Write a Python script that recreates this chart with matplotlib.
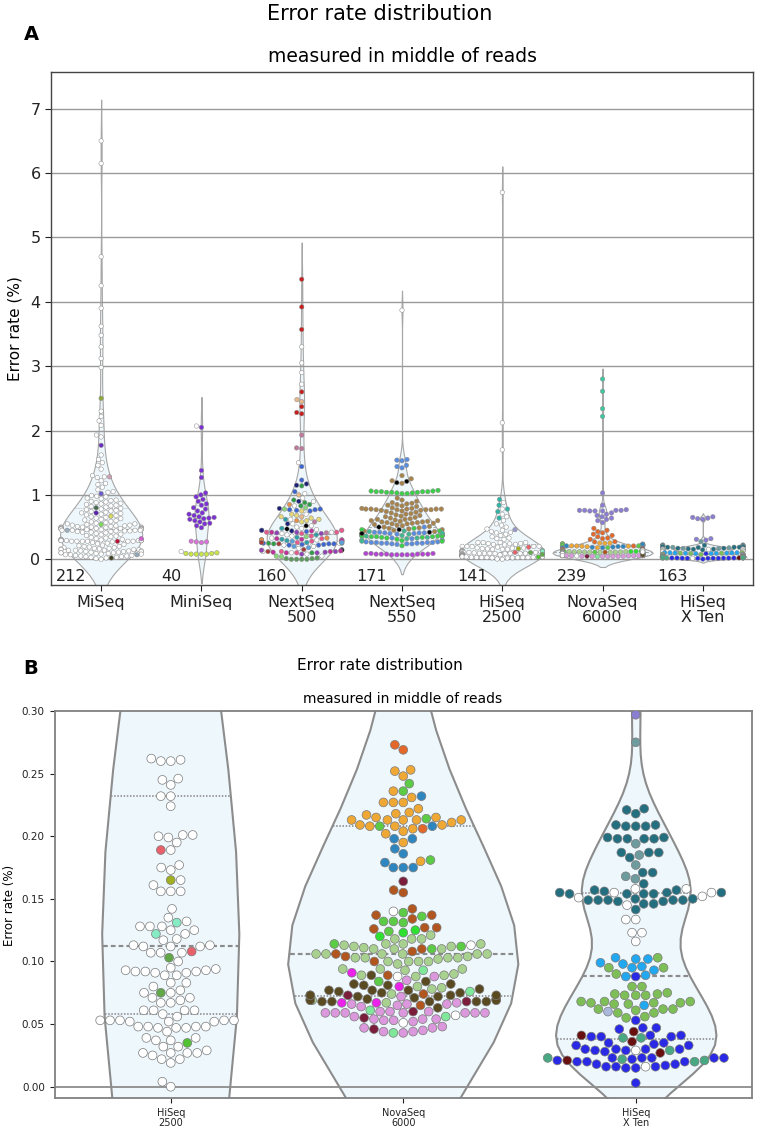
import warnings
import numpy as np
import pandas as pd
import matplotlib
matplotlib.use("Agg")
import matplotlib.pyplot as plt
import seaborn as sns

warnings.filterwarnings("ignore")

# platforms and sample counts (as printed under each violin)
platforms = ["MiSeq", "MiniSeq", "NextSeq\n500", "NextSeq\n550", "HiSeq\n2500", "NovaSeq\n6000", "HiSeq\nX Ten"]
sample_counts = [212, 40, 160, 171, 141, 239, 163]

# ---- MiSeq ----
miseq_white = [
    6.50, 6.15, 4.70, 4.25, 3.90, 3.62, 3.48, 3.30, 3.12, 2.98, 2.30, 2.22, 2.15, 2.08, 1.93, 1.90,
    1.62, 1.55, 1.50, 1.46, 1.40, 1.30, 1.28, 1.27, 1.22, 1.18, 1.16, 1.12, 1.08, 1.05, 1.04, 0.99,
    0.98, 0.97, 0.95, 0.94, 0.92, 0.91, 0.90, 0.89, 0.88, 0.87, 0.86, 0.85, 0.84, 0.83, 0.82, 0.81,
    0.79, 0.78, 0.77, 0.76, 0.75, 0.74, 0.73, 0.72, 0.71, 0.70, 0.69, 0.68, 0.66, 0.65, 0.64, 0.63,
    0.62, 0.61, 0.60, 0.59, 0.58, 0.57, 0.56, 0.55, 0.55, 0.54, 0.53, 0.53, 0.52, 0.52, 0.51, 0.51,
    0.50, 0.50, 0.50, 0.50, 0.49, 0.49, 0.49, 0.49, 0.48, 0.48, 0.48, 0.48, 0.48, 0.47, 0.47, 0.47,
    0.47, 0.47, 0.46, 0.46, 0.46, 0.45, 0.45, 0.45, 0.45, 0.44, 0.44, 0.44, 0.43, 0.43, 0.42, 0.42,
    0.41, 0.40, 0.39, 0.38, 0.37, 0.36, 0.35, 0.34, 0.33, 0.32, 0.31, 0.31, 0.31, 0.30, 0.30, 0.30,
    0.30, 0.30, 0.30, 0.30, 0.30, 0.30, 0.30, 0.29, 0.29, 0.29, 0.29, 0.29, 0.29, 0.29, 0.29, 0.28,
    0.28, 0.28, 0.28, 0.28, 0.28, 0.27, 0.26, 0.25, 0.24, 0.23, 0.22, 0.21, 0.20, 0.20, 0.19, 0.18,
    0.18, 0.17, 0.17, 0.16, 0.16, 0.15, 0.15, 0.15, 0.14, 0.14, 0.14, 0.13, 0.13, 0.13, 0.12, 0.12,
    0.12, 0.11, 0.11, 0.10, 0.10, 0.10, 0.09, 0.09, 0.08, 0.08, 0.07, 0.07, 0.06, 0.06, 0.05, 0.05,
    0.04, 0.04, 0.03, 0.03, 0.02, 0.01, 0.00,
]
miseq_groups = [
    ("white", miseq_white), ("#8ea93a", [2.50]), ("#6b2fc0", [1.77]), ("#d0a0b4", [1.28]),
    ("#6a5acd", [1.02]), ("#4a6b50", [0.80]), ("#5b1fb0", [0.72]), ("#d8d860", [0.67]),
    ("#7ed957", [0.54]), ("#9ab0c0", [0.45]), ("#d060d0", [0.32]), ("#c01030", [0.28]),
    ("#90a8b8", [0.07]), ("#404020", [0.02]),
]

# ---- MiniSeq ----
miniseq_purple = [2.05, 1.38, 1.27, 1.03, 1.00, 0.97, 0.93, 0.90, 0.86, 0.84, 0.80, 0.78, 0.75, 0.72,
                  0.70, 0.68, 0.66, 0.65, 0.64, 0.63, 0.62, 0.60, 0.58, 0.56, 0.55, 0.52, 0.49]
miniseq_groups = [
    ("#7b2fd4", miniseq_purple), ("#d873d8", [0.28, 0.27, 0.27, 0.26]),
    ("#c8e64a", [0.10, 0.09, 0.09, 0.08, 0.08, 0.08, 0.08]), ("white", [2.07, 0.12]),
]

# ---- NextSeq 500 ----
nextseq500_white = [3.30, 3.05, 2.90, 2.72, 1.50, 1.02, 0.95, 0.90, 0.83, 0.70, 0.62, 0.55, 0.52, 0.50,
                    0.48, 0.46, 0.45, 0.42, 0.40, 0.38, 0.36, 0.33, 0.30, 0.28, 0.25, 0.22, 0.20, 0.17,
                    0.14, 0.12, 0.10, 0.08, 0.05]
nextseq500_groups = [
    ("#c81e1e", [4.35, 3.92, 3.57, 2.60, 2.37, 2.28, 2.26]),
    ("#e8b98c", [2.48, 2.45, 1.00, 0.66]),
    ("#c0789e", [1.93, 1.73, 1.72, 0.58, 0.41]),
    ("white", nextseq500_white),
    ("#3c64d2", [1.44, 1.23, 1.05, 0.78, 0.77, 0.77, 0.76, 0.75, 0.45, 0.43, 0.30, 0.25, 0.24, 0.24,
                 0.23, 0.23, 0.22, 0.22]),
    ("#1c2078", [1.17, 1.15, 0.90, 0.79, 0.55, 0.45, 0.44, 0.15]),
    ("#2e9e46", [1.14, 0.92, 0.88, 0.85, 0.83, 0.30, 0.28, 0.25, 0.24, 0.10]),
    ("#e6d878", [0.75, 0.70, 0.68, 0.66, 0.64, 0.62, 0.60, 0.58]),
    ("#e85a8c", [0.45, 0.42, 0.42, 0.40, 0.36, 0.32, 0.30, 0.28, 0.27, 0.26, 0.12, 0.10]),
    ("#88d878", [0.80, 0.78, 0.35, 0.05, 0.04]),
    ("#5a9a5a", [0.02, 0.01, 0.00, 0.00, 0.00, 0.00, 0.01]),
    ("black", [0.52, 0.47, 0.14]),
    ("#9040b8", [0.42, 0.41, 0.40, 0.14, 0.12, 0.11, 0.10, 0.08]),
    ("#30a0a8", [0.62, 0.48, 0.38, 0.34, 0.31, 0.29, 0.27, 0.26, 0.25]),
    ("#c0309a", [0.44, 0.42, 0.32, 0.31, 0.30, 0.29, 0.26, 0.13, 0.12, 0.11, 0.10]),
    ("#e8904a", [0.85, 0.60, 0.33, 0.30]),
    ("#a83a3a", [0.26, 0.24, 0.15, 0.12]),
    ("#5aa0e0", [0.28, 0.26, 0.20, 0.18]),
]

# ---- NextSeq 550 ----
nextseq550_blue = [1.55, 1.54, 1.53, 1.46, 1.44, 1.42,
                   0.42, 0.42, 0.41, 0.41, 0.41, 0.40, 0.40, 0.40, 0.40, 0.39, 0.39, 0.39, 0.38,
                   0.27, 0.27, 0.26, 0.26, 0.26, 0.26, 0.25, 0.25, 0.25, 0.25, 0.24, 0.24, 0.24, 0.23,
                   0.50, 0.33, 0.32, 0.30]
nextseq550_brown = [1.30, 1.25, 1.22, 1.18,
                    0.95, 0.92, 0.90, 0.88, 0.87, 0.86, 0.85, 0.84, 0.83, 0.82,
                    0.80, 0.79, 0.79, 0.78, 0.78, 0.78, 0.78, 0.78, 0.77, 0.77, 0.77, 0.77, 0.76, 0.76,
                    0.75, 0.74, 0.73, 0.72, 0.71, 0.70, 0.69, 0.68, 0.67, 0.66,
                    0.65, 0.64, 0.63, 0.62, 0.62, 0.61, 0.60, 0.60, 0.59, 0.58,
                    0.57, 0.56, 0.55, 0.54, 0.53, 0.52, 0.51, 0.50, 0.49, 0.48,
                    0.47, 0.46, 0.45, 0.44, 0.43, 0.55, 0.56, 0.57, 0.58, 0.59]
nextseq550_green = [1.07, 1.06, 1.06, 1.05, 1.05, 1.05, 1.05, 1.04, 1.04, 1.04, 1.03, 1.03, 1.02, 1.02,
                    0.38, 0.37, 0.37, 0.37, 0.36, 0.36, 0.36, 0.35, 0.35, 0.35, 0.34, 0.34,
                    0.48, 0.46, 0.44, 0.33, 0.31, 0.29, 0.28, 0.21]
nextseq550_groups = [
    ("white", [3.87]), ("#5a8de0", nextseq550_blue), ("#a8834a", nextseq550_brown),
    ("#3ad048", nextseq550_green),
    ("#b444d4", [0.09, 0.09, 0.09, 0.08, 0.08, 0.08, 0.08, 0.08, 0.08, 0.07, 0.07, 0.07, 0.07, 0.07]),
    ("black", [1.21, 1.19, 0.50, 0.46, 0.42, 0.40]),
    ("#40b890", [0.44, 0.43, 0.41, 0.39, 0.37, 0.36, 0.34, 0.33, 0.32, 0.30, 0.28]),
]

# ---- HiSeq 2500 ----
hiseq2500_white = [
    0.262, 0.260, 0.260, 0.261, 0.245, 0.246, 0.241, 0.232, 0.232, 0.224,
    0.201, 0.199, 0.200, 0.201, 0.195, 0.189, 0.177, 0.173, 0.175,
    0.165, 0.161, 0.156, 0.156, 0.156, 0.142,
    0.135, 0.132, 0.128, 0.128, 0.128, 0.125, 0.125, 0.122, 0.118, 0.117,
    0.113, 0.113, 0.112, 0.112, 0.112, 0.107, 0.107, 0.107, 0.100,
    0.094, 0.092, 0.091, 0.093, 0.093, 0.095, 0.091, 0.092, 0.092, 0.089, 0.089,
    0.083, 0.083, 0.080, 0.077, 0.075, 0.075, 0.071, 0.071, 0.067, 0.067, 0.069,
    0.061, 0.061, 0.061, 0.061, 0.058, 0.056,
    0.053, 0.053, 0.052, 0.053, 0.053, 0.052, 0.053, 0.052,
    0.048, 0.047, 0.048, 0.048, 0.047, 0.048, 0.047, 0.044,
    0.039, 0.039, 0.037, 0.037, 0.032, 0.032, 0.029,
    0.027, 0.027, 0.027, 0.027, 0.025, 0.022, 0.022, 0.019, 0.004, 0.000,
    0.31, 0.32, 0.33, 0.35, 0.37, 0.39, 0.41, 0.42, 0.43, 0.45, 0.47, 0.50, 0.53, 0.55, 0.60,
    0.66, 0.70, 0.78, 0.88, 1.70, 2.12, 5.70,
]
hiseq2500_groups = [
    ("white", hiseq2500_white), ("#e8606a", [0.189, 0.108]), ("#a0b020", [0.165]),
    ("#86ecc4", [0.131, 0.122]), ("#62a848", [0.103, 0.075]), ("#52c232", [0.035]),
    ("#2fb5a5", [0.93, 0.84, 0.78, 0.74, 0.64]), ("#9a98c8", [0.46]),
]

# ---- NovaSeq 6000 ----
novaseq_orange = [0.252, 0.253, 0.248, 0.236, 0.231, 0.227, 0.227, 0.227, 0.222, 0.219, 0.218,
                  0.215, 0.211, 0.209, 0.215, 0.213, 0.213, 0.213, 0.213, 0.217, 0.213,
                  0.208, 0.206, 0.208, 0.209, 0.204, 0.202, 0.195, 0.180]
novaseq_sage = [0.121, 0.118, 0.118, 0.118,
                0.114, 0.113, 0.111, 0.114, 0.110, 0.114, 0.110, 0.110, 0.112, 0.112,
                0.106, 0.106, 0.104, 0.103, 0.106, 0.103, 0.103, 0.103, 0.106, 0.106, 0.106,
                0.100, 0.098, 0.100, 0.100, 0.100, 0.102, 0.094, 0.094, 0.093, 0.094,
                0.090, 0.088, 0.089, 0.089, 0.080, 0.079, 0.078, 0.074, 0.069, 0.067]
novaseq_orchid = [0.085, 0.088, 0.072, 0.070, 0.066, 0.070, 0.066, 0.065, 0.064, 0.066, 0.067,
                  0.060, 0.059, 0.059, 0.060, 0.059, 0.060, 0.059, 0.059, 0.059, 0.059,
                  0.053, 0.053, 0.052, 0.054, 0.054, 0.054, 0.056,
                  0.048, 0.047, 0.045, 0.044, 0.044, 0.047, 0.043]
novaseq_olive = [0.072, 0.071, 0.069, 0.068, 0.077, 0.077, 0.073, 0.072, 0.069, 0.082, 0.081, 0.081,
                 0.077, 0.073, 0.082, 0.075, 0.070, 0.075, 0.073, 0.068, 0.076, 0.078, 0.073, 0.068,
                 0.068, 0.089, 0.084, 0.068, 0.063]
novaseq_groups = [
    ("#8c7cd4", [1.03, 0.84, 0.77, 0.76, 0.76, 0.76, 0.76, 0.75, 0.75, 0.75, 0.72, 0.70, 0.68, 0.66,
                 0.64, 0.62, 0.60, 0.57]),
    ("#3cc8a0", [2.80, 2.61, 2.34, 2.22]),
    ("#e4682a", [0.48, 0.45, 0.43, 0.41, 0.39, 0.37, 0.35, 0.33, 0.32, 0.31, 0.273, 0.269, 0.206]),
    ("#f0a835", novaseq_orange),
    ("#5ccc46", [0.242, 0.236, 0.208, 0.214, 0.181, 0.139, 0.136, 0.132, 0.132, 0.131, 0.124, 0.114,
                 0.110, 0.112, 0.084]),
    ("#2e86c1", [0.232, 0.208, 0.198, 0.198, 0.190, 0.186, 0.179, 0.175, 0.175, 0.175]),
    ("#7a1e3c", [0.164, 0.068, 0.073, 0.060, 0.055, 0.046]),
    ("#b0561e", [0.157, 0.155, 0.142, 0.137, 0.137, 0.134, 0.126, 0.127, 0.127, 0.110, 0.106, 0.104,
                 0.100, 0.108, 0.089, 0.074, 0.065]),
    ("#2ee030", [0.125, 0.123, 0.120]),
    ("#a8d08e", novaseq_sage),
    ("#80e89a", [0.093, 0.076, 0.070, 0.061, 0.056, 0.043]),
    ("#ea22ea", [0.091, 0.080, 0.067, 0.067]),
    ("#dc98dc", novaseq_orchid),
    ("#5a4a22", novaseq_olive),
    ("white", [0.140, 0.113, 0.088, 0.057, 0.051]),
]

# ---- HiSeq X Ten ----
xten_darkteal = [0.221, 0.222, 0.218, 0.209, 0.208, 0.208, 0.208, 0.209,
                 0.198, 0.199, 0.198, 0.198, 0.199, 0.198, 0.187, 0.187, 0.187, 0.183,
                 0.171, 0.171, 0.162, 0.157, 0.157,
                 0.154, 0.155, 0.154, 0.155, 0.155, 0.154, 0.154, 0.156,
                 0.149, 0.149, 0.150, 0.148, 0.149, 0.149, 0.148, 0.149, 0.150, 0.146, 0.146, 0.1415]
xten_green = [0.103, 0.095, 0.095, 0.090,
              0.080, 0.080, 0.074, 0.075, 0.074, 0.073, 0.073, 0.073, 0.068, 0.068, 0.067, 0.067,
              0.068, 0.066, 0.067, 0.066, 0.062, 0.062, 0.061, 0.059, 0.059, 0.062, 0.055, 0.056]
xten_blue = [0.088, 0.053, 0.047, 0.047, 0.046, 0.040, 0.040, 0.041, 0.040, 0.041,
             0.035, 0.034, 0.033, 0.035, 0.033, 0.030, 0.028, 0.030, 0.029, 0.029, 0.030, 0.030,
             0.023, 0.023, 0.023, 0.020, 0.018, 0.016, 0.015, 0.015, 0.016, 0.016, 0.017, 0.018,
             0.020, 0.022, 0.023, 0.020, 0.021, 0.023, 0.003]
xten_groups = [
    ("#8a7ed2", [0.66, 0.65, 0.64, 0.63, 0.62, 0.32, 0.31, 0.297]),
    ("#6e9c9e", [0.275, 0.194, 0.185, 0.177, 0.168, 0.166]),
    ("#236f80", xten_darkteal),
    ("white", [0.158, 0.158, 0.155, 0.152, 0.151, 0.155, 0.145, 0.1335, 0.1335, 0.123, 0.123, 0.116,
               0.029, 0.016]),
    ("#22a8f0", [0.103, 0.102, 0.102, 0.098, 0.096, 0.095, 0.093, 0.089, 0.088, 0.099, 0.065]),
    ("#7dbf56", xten_green),
    ("#aab8dc", [0.060]),
    ("#2a2ae6", xten_blue),
    ("#681010", [0.041, 0.044, 0.036, 0.027, 0.021]),
    ("#48a882", [0.039, 0.039, 0.029, 0.020, 0.022, 0.021, 0.023]),
]

all_groups = [miseq_groups, miniseq_groups, nextseq500_groups, nextseq550_groups,
              hiseq2500_groups, novaseq_groups, xten_groups]

rows = []
for name, groups in zip(platforms, all_groups):
    for col, vals in groups:
        for v in vals:
            rows.append((name, v, col))
df = pd.DataFrame(rows, columns=["platform", "rate", "color"])
palette = {c: c for c in df["color"].unique()}

FILL = "#eef7fc"
# kde bandwidth adjustment per platform
bw_adjust = [1.0, 1.0, 1.0, 1.0, 1.0, 0.7, 0.65]


def draw_violin(ax, pos, vals, half, adjust, edge, lw, qlw, dash_q, dash_m):
    v = np.asarray(vals, float)
    bw = v.std(ddof=1) * len(v) ** -0.2 * adjust
    ys = np.linspace(v.min() - 2 * bw, v.max() + 2 * bw, 100)
    dens = np.exp(-0.5 * ((ys[:, None] - v[None, :]) / bw) ** 2).sum(axis=1)
    dens = dens / dens.max() * half
    ax.fill_betweenx(ys, pos - dens, pos + dens, facecolor=FILL, edgecolor=edge,
                     linewidth=lw, zorder=1)
    q1, med, q3 = np.percentile(v, [25, 50, 75])
    for q, d, w_ in [(q1, dash_q, qlw), (med, dash_m, qlw * 1.3), (q3, dash_q, qlw)]:
        w = np.interp(q, ys, dens) * 0.99
        ax.plot([pos - w, pos + w], [q, q], color=edge, lw=w_, dashes=d, zorder=2)


W, H = 759, 1134
fig = plt.figure(figsize=(W / 100, H / 100), dpi=100)

# ---------------- panel A ----------------
axA = fig.add_axes([51 / W, 1 - 585 / H, 702 / W, 513 / H])
widths_a = [0.41, 0.07, 0.35, 0.36, 0.415, 0.5, 0.435]
for i, name in enumerate(platforms):
    vals = df.loc[df.platform == name, "rate"].values
    draw_violin(axA, i, vals, widths_a[i], bw_adjust[i], "#a6a6a6", 0.8, 0.6, (1, 1.5), (3, 2))
for y in range(8):
    axA.axhline(y, color="#9a9a9a", lw=1.0, zorder=1.5)
sns.swarmplot(data=df, x="platform", y="rate", hue="color", palette=palette, order=platforms,
              size=3.2, edgecolor="#8a8a8a", linewidth=0.35, legend=False, ax=axA, zorder=3)
axA.set_xlim(-0.5, 6.5)
axA.set_ylim(-0.4, 7.57)
axA.set_xticks(range(7))
axA.set_xticklabels(platforms, fontsize=11.5, linespacing=1.0)
axA.set_yticks(range(8))
axA.set_yticklabels([str(t) for t in range(8)], fontsize=11.5)
axA.set_xlabel("")
axA.set_ylabel("")
for s in axA.spines.values():
    s.set_color("#444444")
    s.set_linewidth(1.0)
axA.tick_params(colors="#222222", length=4)
for i, n in enumerate(sample_counts):
    axA.text(i - 0.3, -0.27, str(n), ha="center", va="center", fontsize=11.5, color="#222222")

fig.text(15 / W, 1 - 329 / H, "Error rate (%)", rotation=90, ha="center", va="center", fontsize=11)
fig.text(0.5, 1 - 14 / H, "Error rate distribution", ha="center", va="center", fontsize=15)
fig.text(402 / W, 1 - 56 / H, "measured in middle of reads", ha="center", va="center", fontsize=13.5)
fig.text(31 / W, 1 - 34 / H, "A", ha="center", va="center", fontsize=14, fontweight="bold")

# ---------------- panel B ----------------
sub = platforms[4:]
dfB = df[df.platform.isin(sub)]
axB = fig.add_axes([54.5 / W, 1 - 1098 / H, 697.5 / W, 387 / H])
widths_b = [0.295, 0.495, 0.345]
for i, name in enumerate(sub):
    vals = dfB.loc[dfB.platform == name, "rate"].values
    draw_violin(axB, i, vals, widths_b[i], bw_adjust[i + 4], "#8c8c8c", 1.5, 1.2,
                (0.9, 1.0), (2.2, 1.4))
axB.axhline(0, color="#8c8c8c", lw=1.3, zorder=1.5)
sns.swarmplot(data=dfB, x="platform", y="rate", hue="color", palette=palette, order=sub,
              size=6.3, edgecolor="#7a7a7a", linewidth=0.5, legend=False, ax=axB, zorder=3)
axB.set_xlim(-0.5, 2.5)
axB.set_ylim(-0.009, 0.30)
axB.set_xticks(range(3))
axB.set_xticklabels(sub, fontsize=7, linespacing=1.0)
yt = [0.0, 0.05, 0.10, 0.15, 0.20, 0.25, 0.30]
axB.set_yticks(yt)
axB.set_yticklabels(["%.2f" % t for t in yt], fontsize=7.5)
axB.set_xlabel("")
axB.set_ylabel("")
for s in axB.spines.values():
    s.set_color("#808080")
    s.set_linewidth(1.3)
axB.tick_params(colors="#222222", length=3.5)

fig.text(10 / W, 1 - 905 / H, "Error rate (%)", rotation=90, ha="center", va="center", fontsize=8.5)
fig.text(0.5, 1 - 666 / H, "Error rate distribution", ha="center", va="center", fontsize=11)
fig.text(403 / W, 1 - 699 / H, "measured in middle of reads", ha="center", va="center", fontsize=10)
fig.text(31 / W, 1 - 668 / H, "B", ha="center", va="center", fontsize=14, fontweight="bold")

fig.savefig("out.png", dpi=100)
